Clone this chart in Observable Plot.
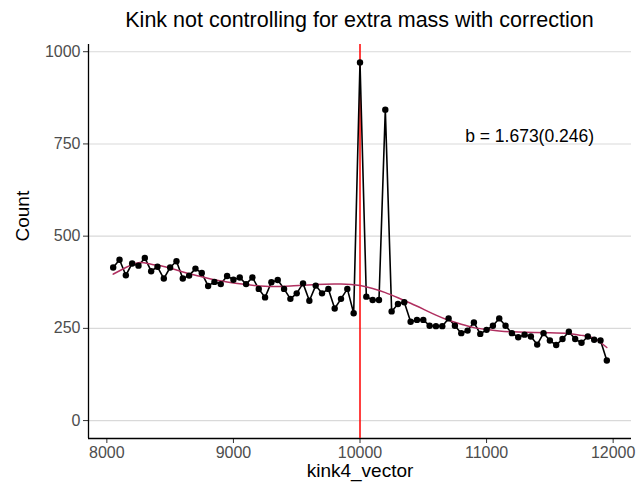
<!DOCTYPE html>
<html><head><meta charset="utf-8">
<script src="https://cdn.jsdelivr.net/npm/d3@7"></script>
<script src="https://cdn.jsdelivr.net/npm/@observablehq/plot@0.6"></script>
<style>
body{margin:0;background:#fff;font-family:"Liberation Sans",Arial,sans-serif;}
#wrap{position:relative;width:638px;height:487px;}
#title{position:absolute;left:88px;width:543px;top:8px;text-align:center;font-size:21.5px;color:#000;white-space:nowrap;}
</style></head><body>
<div id="wrap"><div id="title">Kink not controlling for extra mass with correction</div><div id="chart"></div></div>
<script>
const kink = [8050,8100,8150,8200,8250,8300,8350,8400,8450,8500,8550,8600,8650,8700,8750,8800,8850,8900,8950,9000,
9050,9100,9150,9200,9250,9300,9350,9400,9450,9500,9550,9600,9650,9700,9750,9800,9850,9900,9950,10000,
10050,10100,10150,10200,10250,10300,10350,10400,10450,10500,10550,10600,10650,10700,10750,10800,10850,10900,10950,11000,
11050,11100,11150,11200,11250,11300,11350,11400,11450,11500,11550,11600,11650,11700,11750,11800,11850,11900,11950];
const counts = [415,436,394,426,420,441,405,417,385,415,432,385,393,412,400,365,376,370,392,382,
388,370,388,357,334,375,381,357,330,345,372,325,366,345,357,304,330,357,291,971,
336,327,327,843,296,316,321,268,273,273,257,256,256,277,257,237,244,266,235,246,
257,277,257,237,226,233,228,206,237,217,205,221,241,221,211,228,219,217,163];
const smoothX = [8050,8150,8250,8350,8450,8550,8650,8750,8850,8950,9050,9250,9450,9650,9850,10000,10100,10200,10300,10400,10500,10600,10700,10800,10900,11000,11100,11250,11500,11650,11750,11850,11950];
const smoothY = [397,415,428,424,418,408,398,390,382,376,371,364,365,369,370,366,358,347,333,318,302,286,272,261,252,247,243,240,238,236,231,223,198];
const xTicks = [8000,9000,10000,11000,12000];
const yTicks = [0,250,500,750,1000];
const kinkPoint = [10000];
const annotation = [{x:11340, y:770, label:"b = 1.673(0.246)"}];

const data = kink.map((k,i)=>({kink:k, count:counts[i]}));
const smooth = smoothX.map((k,i)=>({kink:k, count:smoothY[i]}));

function expand(lo, hi){ const e=(hi-lo)*0.05; return [lo-e, hi+e]; }
const xDom = expand(d3.min(kink), d3.max(kink));
const yDom = expand(0, d3.max(counts));

const chart = Plot.plot({
  width:638, height:487,
  marginLeft:88, marginRight:7, marginTop:44, marginBottom:49,
  style:{fontFamily:"'Liberation Sans', Arial, sans-serif", fontSize:"16px", color:"#4d4d4d", background:"white", overflow:"visible"},
  x:{domain:xDom, label:null},
  y:{domain:yDom, label:null},
  marks:[
    Plot.gridY(yTicks,{stroke:"#d9d9d9", strokeOpacity:1, strokeWidth:1.1}),
    Plot.axisX(xTicks,{tickSize:5, tickPadding:3, stroke:"#333", tickFormat:d=>String(d), fill:"#4d4d4d", label:null}),
    Plot.axisY(yTicks,{tickSize:5, tickPadding:3, stroke:"#333", tickFormat:d=>String(d), fill:"#4d4d4d", label:null}),
    Plot.ruleY([yDom[0]],{stroke:"black", strokeWidth:1.3}),
    Plot.ruleX([xDom[0]],{stroke:"black", strokeWidth:1.3}),
    Plot.ruleX(kinkPoint,{stroke:"red", strokeWidth:1.5}),
    Plot.line(data,{x:"kink", y:"count", stroke:"black", strokeWidth:1.6}),
    Plot.line(smooth,{x:"kink", y:"count", stroke:"#B03060", strokeWidth:1.5, curve:"natural"}),
    Plot.dot(data,{x:"kink", y:"count", r:3.2, fill:"black"}),
    Plot.text(annotation,{x:"x", y:"y", text:"label", fontSize:17.5, fill:"black"}),
    Plot.text(["kink4_vector"],{frameAnchor:"bottom", dy:38, fontSize:19, fill:"black"}),
    Plot.text(["Count"],{frameAnchor:"left", dx:-66, rotate:-90, fontSize:19, fill:"black"})
  ]
});
document.getElementById("chart").appendChild(chart);
</script></body></html>
